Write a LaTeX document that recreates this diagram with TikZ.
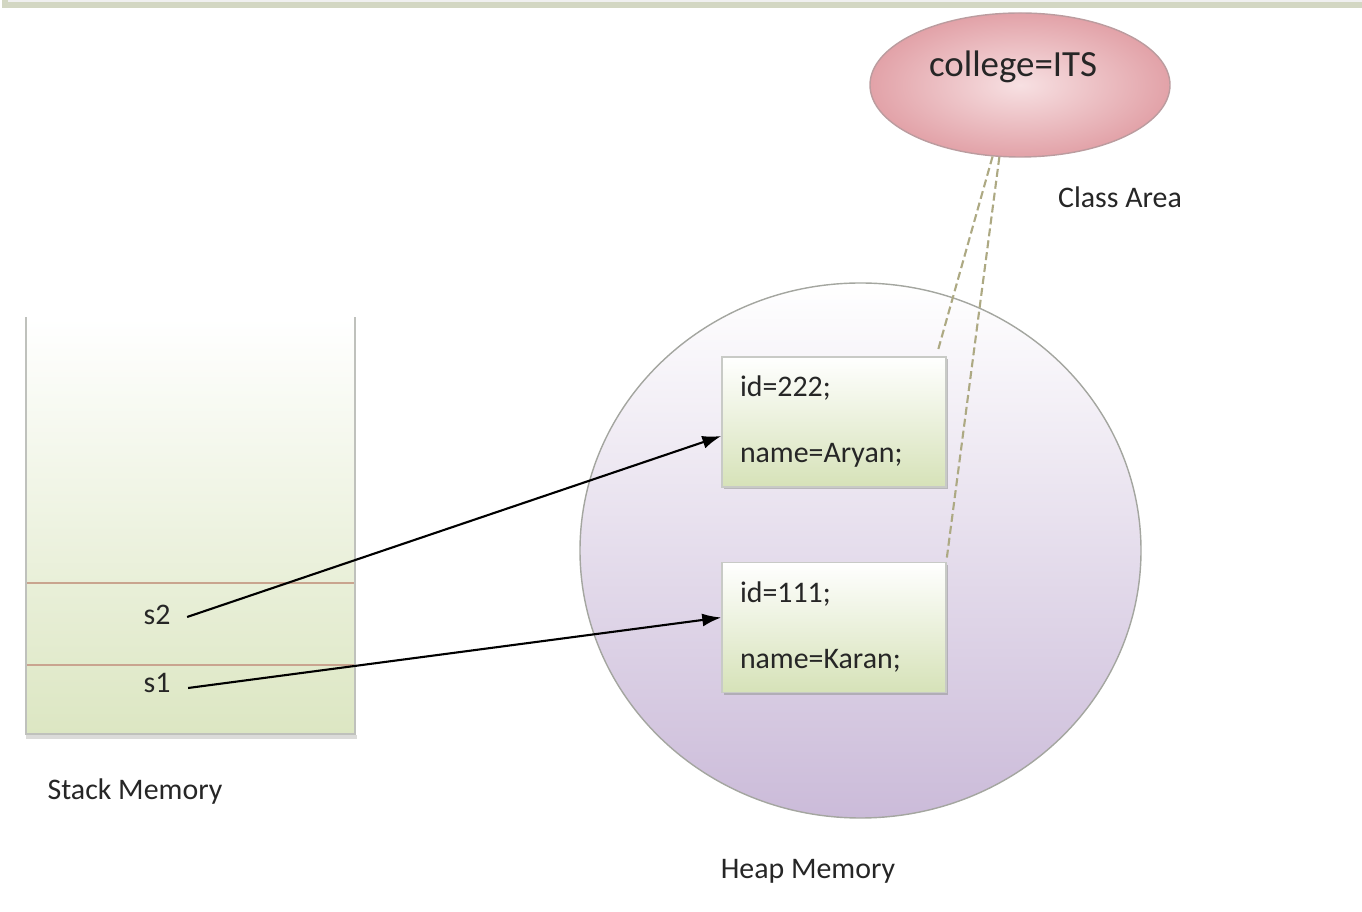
\documentclass[tikz,border=0pt]{standalone}
\usepackage{fontspec}
\setmainfont{Carlito}
\usepackage{tikz}
\usepackage{xcolor}
\usetikzlibrary{arrows.meta,shapes.geometric,shadows}

\definecolor{rose}{HTML}{E2A2A8}
\definecolor{roseclair}{HTML}{F7E0E2}
\definecolor{lavande}{HTML}{CBBBD9}
\definecolor{vertclair}{HTML}{D6E2B8}
\definecolor{bordgris}{HTML}{A4A6A0}
\definecolor{pointille}{HTML}{ADA983}
\definecolor{trait}{HTML}{C9A48F}
\definecolor{cadre}{HTML}{D3D7C3}

\begin{document}
\begin{tikzpicture}[
  texte/.style={font=\fontsize{8.5}{10}\selectfont, text=black!85, inner sep=0pt},
  objet/.style={draw=bordgris!60, top color=white, bottom color=vertclair,
    minimum width=2.24cm, minimum height=1.3cm, text width=1.88cm, inner xsep=0.18cm,
    align=left, font=\fontsize{8.5}{18.8}\selectfont, text=black!85,
    drop shadow={shadow xshift=0.02cm, shadow yshift=-0.025cm, fill=black!40, opacity=0.6}},
  ref/.style={line width=0.6pt, -{Latex[length=1.9mm,width=1.3mm]}},
  lien/.style={pointille, line width=0.6pt, dash pattern=on 0.8mm off 0.4mm}
]
  \useasboundingbox (0,0) rectangle (13.62,9.12);

  % cadre du haut
  \fill[black!6] (0.05,9.07) rectangle (13.62,9.12);
  \draw[cadre, line width=1.5pt] (0.05,9.12) -- (0.05,9.07) -- (13.62,9.07);

  % pile
  \node[rectangle, minimum width=3.27cm, minimum height=4.15cm, inner sep=0pt,
    top color=white, bottom color=vertclair!85] (pile) at (1.905, 3.865) {};
  \draw[bordgris!40, line width=1.2pt] ([yshift=-0.03cm]pile.south west) -- ([xshift=0.02cm,yshift=-0.03cm]pile.south east);
  \draw[bordgris!70, line width=0.6pt] (pile.north west) -- (pile.south west) -- (pile.south east) -- (pile.north east);
  \draw[trait, line width=0.4pt] (0.27, 3.29) -- (3.54, 3.29);
  \draw[trait, line width=0.4pt] (0.27, 2.47) -- (3.54, 2.47);

  \node[texte] (s2) at (1.57, 2.97) {s2};
  \node[texte] (s1) at (1.57, 2.29) {s1};
  \node[texte] (pilelabel) at (1.35, 1.20) {Stack Memory};

  % tas
  \node[ellipse, draw=bordgris, minimum width=5.61cm, minimum height=5.35cm,
    top color=white, bottom color=lavande] (tas) at (8.605, 3.615) {};
  \node[texte] (taslabel) at (8.08, 0.41) {Heap Memory};

  \node[objet] (aryan) at (8.34, 4.90) {id=222;\\name=Aryan;};
  \node[objet] (karan) at (8.34, 2.845) {id=111;\\name=Karan;};

  % zone des classes
  \node[ellipse, draw=rose!70!black!70, inner color=roseclair, outer color=rose,
    minimum width=3cm, minimum height=1.44cm] (classe) at (10.20, 8.27) {};
  \node[texte, font=\fontsize{10.5}{12}\selectfont] (college) at (10.13, 8.45) {college=ITS};
  \node[texte] (classelabel) at (11.20, 7.15) {Class Area};

  \draw[lien] (classe.249) -- ([xshift=-0.09cm,yshift=0.05cm]aryan.north east);
  \draw[lien] (classe.254) -- ([yshift=0.03cm]karan.north east);

  \draw[ref] ([xshift=0.16cm,yshift=-0.02cm]s2.east) -- ([yshift=-0.14cm]aryan.west);
  \draw[ref] ([xshift=0.17cm,yshift=-0.05cm]s1.east) -- ([yshift=0.10cm]karan.west);
\end{tikzpicture}
\end{document}
